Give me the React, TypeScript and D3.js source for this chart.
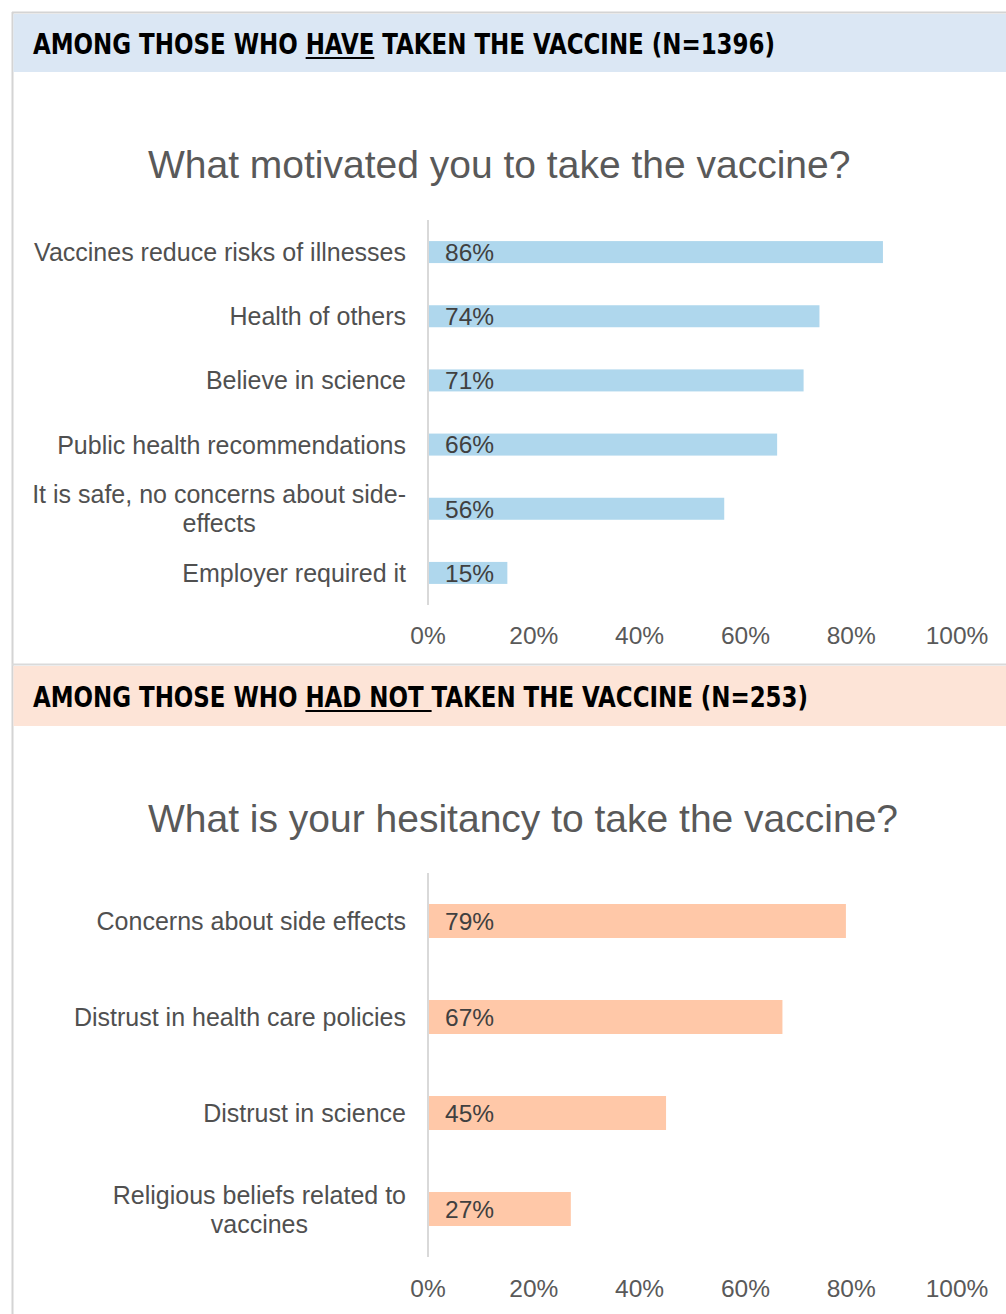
import React, { useEffect, useRef } from 'react';
import * as d3 from 'd3';

// Top panel: vaccinated respondents
const motivLabels = [
  ["Vaccines reduce risks of illnesses"],
  ["Health of others"],
  ["Believe in science"],
  ["Public health recommendations"],
  ["It is safe, no concerns about side-", "effects"],
  ["Employer required it"],
];
const motivValues = [86, 74, 71, 66, 56, 15];

// Bottom panel: not vaccinated respondents
const hesitLabels = [
  ["Concerns about side effects"],
  ["Distrust in health care policies"],
  ["Distrust in science"],
  ["Religious beliefs related to", "vaccines"],
];
const hesitValues = [79, 67, 45, 27];

const tickValues = [0, 20, 40, 60, 80, 100];

const W = 1006;
const H = 1314;
const FONT = "'Liberation Sans', Arial, sans-serif";
const HEAD_FONT = "'DejaVu Sans Condensed', 'DejaVu Sans', sans-serif";

const App: React.FC = () => {
  const svgRef = useRef<SVGSVGElement>(null);

  useEffect(() => {
    document.body.style.margin = "0";
    if (!svgRef.current) return;
    const svg = d3.select(svgRef.current);
    svg.selectAll("*").remove();

    const x = d3.scaleLinear().domain([0, 100]).range([428, 957]);

    // frame lines
    svg.append("line").attr("x1", 12).attr("x2", W).attr("y1", 12.5).attr("y2", 12.5)
      .attr("stroke", "#d4d4d4").attr("stroke-width", 2);
    svg.append("line").attr("x1", 12.5).attr("x2", 12.5).attr("y1", 12).attr("y2", H)
      .attr("stroke", "#d4d4d4").attr("stroke-width", 2);
    svg.append("line").attr("x1", 12).attr("x2", W).attr("y1", 664.5).attr("y2", 664.5)
      .attr("stroke", "#dadada").attr("stroke-width", 2);

    // header band, with one underlined piece of the text
    const header = (y0: number, y1: number, fill: string, text: string, ulFrom: number, ulTo: number, textLen: number) => {
      svg.append("rect").attr("x", 13.5).attr("y", y0).attr("width", W - 13.5).attr("height", y1 - y0)
        .attr("fill", fill);
      const base = (y0 + y1) / 2 + 11;
      const t = svg.append("text")
        .attr("x", 33).attr("y", base)
        .attr("font-family", HEAD_FONT).attr("font-weight", "bold")
        .attr("font-size", 29).attr("fill", "#000")
        .attr("textLength", textLen).attr("lengthAdjust", "spacingAndGlyphs")
        .style("white-space", "pre")
        .text(text);
      const node = t.node() as SVGTextContentElement;
      const ux0 = node.getStartPositionOfChar(ulFrom).x;
      const ux1 = node.getEndPositionOfChar(ulTo).x;
      svg.append("line").attr("x1", ux0).attr("x2", ux1).attr("y1", base + 4).attr("y2", base + 4)
        .attr("stroke", "#000").attr("stroke-width", 2);
    };

    const panel = (
      title: string, titleY: number, labels: string[][], values: number[],
      yTop: number, yBot: number, barH: number, color: string, tickY: number
    ) => {
      svg.append("text").attr("x", 148).attr("y", titleY)
        .attr("font-family", FONT).attr("font-size", 39).attr("fill", "#595959").text(title);

      const n = values.length;
      const step = (yBot - yTop) / n;
      const p = 1 - barH / step;
      const y = d3.scaleBand<number>().domain(d3.range(n)).range([yTop, yBot])
        .paddingInner(p).paddingOuter(p / 2);

      const g = svg.append("g");
      g.selectAll("rect.bar").data(values).enter().append("rect")
        .attr("class", "bar")
        .attr("x", x(0)).attr("y", (_, i) => y(i)!)
        .attr("width", d => x(d) - x(0)).attr("height", y.bandwidth())
        .attr("fill", color);

      g.append("line").attr("x1", x(0)).attr("x2", x(0)).attr("y1", yTop).attr("y2", yBot)
        .attr("stroke", "#d9d9d9").attr("stroke-width", 2);

      g.selectAll("text.val").data(values).enter().append("text")
        .attr("class", "val")
        .attr("x", x(0) + 17).attr("y", (_, i) => y(i)! + y.bandwidth() / 2)
        .attr("dy", "0.36em")
        .attr("font-family", FONT).attr("font-size", 24.5).attr("fill", "#404040")
        .text(d => `${d}%`);

      labels.forEach((lines, i) => {
        const cy = y(i)! + y.bandwidth() / 2;
        const lh = 29;
        const texts = lines.map((l, k) =>
          g.append("text")
            .attr("y", cy + (k - (lines.length - 1) / 2) * lh).attr("dy", "0.36em")
            .attr("font-family", FONT).attr("font-size", 25).attr("fill", "#505050")
            .text(l)
        );
        const widths = texts.map(s => (s.node() as SVGTextContentElement).getComputedTextLength());
        const cx = 406 - Math.max(...widths) / 2;
        texts.forEach(s => s.attr("x", cx).attr("text-anchor", "middle"));
      });

      g.selectAll("text.tick").data(tickValues).enter().append("text")
        .attr("class", "tick")
        .attr("x", d => x(d)).attr("y", tickY).attr("text-anchor", "middle")
        .attr("dy", "0.36em")
        .attr("font-family", FONT).attr("font-size", 24.5).attr("fill", "#595959")
        .text(d => `${d}%`);
    };

    header(14, 72, "#dbe7f4", "AMONG THOSE WHO HAVE TAKEN THE VACCINE (N=1396)", 16, 19, 742);
    panel("What motivated you to take the vaccine?", 178, motivLabels, motivValues,
      220, 605, 22, "#afd7ed", 635);

    header(666, 726, "#fde4d7", "AMONG THOSE WHO HAD NOT TAKEN THE VACCINE (N=253)", 16, 23, 775);
    panel("What is your hesitancy to take the vaccine?", 832, hesitLabels, hesitValues,
      873, 1257, 34, "#ffc8a8", 1288);
  }, []);

  return <svg ref={svgRef} width={W} height={H} style={{ display: "block", background: "#fff" }} />;
};

export default App;
